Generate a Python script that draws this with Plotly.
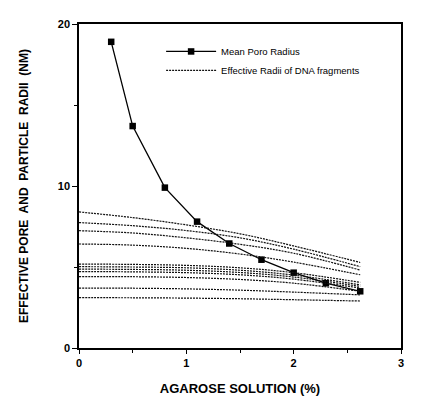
import plotly.graph_objects as go

# Mean pore radius
pore_x = [0.3, 0.5, 0.8, 1.1, 1.4, 1.7, 2.0, 2.3, 2.62]
pore_y = [18.9, 13.7, 9.9, 7.8, 6.45, 5.45, 4.65, 4.0, 3.5]

# Effective radii of DNA fragments (dotted curves)
frag_x = [0, 0.5, 1.0, 1.5, 2.0, 2.62]
frag_1 = [8.40, 8.05, 7.60, 7.05, 6.30, 5.28]
frag_2 = [7.74, 7.55, 7.25, 6.80, 6.10, 5.02]
frag_3 = [7.24, 7.10, 6.80, 6.40, 5.85, 4.81]
frag_4 = [6.42, 6.35, 6.15, 5.80, 5.30, 4.52]
frag_5 = [5.18, 5.16, 5.10, 4.95, 4.65, 4.05]
frag_6 = [5.02, 5.00, 4.95, 4.80, 4.50, 3.90]
frag_7 = [4.87, 4.85, 4.80, 4.66, 4.38, 3.80]
frag_8 = [4.72, 4.70, 4.65, 4.52, 4.25, 3.70]
frag_9 = [4.41, 4.40, 4.35, 4.23, 4.00, 3.50]
frag_10 = [3.70, 3.69, 3.65, 3.57, 3.45, 3.28]
frag_11 = [3.11, 3.10, 3.08, 3.04, 2.98, 2.90]
fragments = [frag_1, frag_2, frag_3, frag_4, frag_5, frag_6, frag_7,
             frag_8, frag_9, frag_10, frag_11]

x_ticks = [0, 1, 2, 3]
y_ticks = [0, 10, 20]

fig = go.Figure()
fig.add_trace(go.Scatter(
    x=pore_x, y=pore_y, mode="lines+markers", name="Mean Poro Radius",
    line=dict(color="black", width=1.3),
    marker=dict(symbol="square", size=6.5, color="black"),
))
for i, fy in enumerate(fragments):
    fig.add_trace(go.Scatter(
        x=frag_x, y=fy, mode="lines", line_shape="spline",
        name="Effective Radii of DNA fragments",
        line=dict(color="#111111", width=1.2, dash="2px,1px"),
        showlegend=(i == 0),
    ))

fig.update_layout(
    width=417, height=388,
    margin=dict(l=71, r=24, t=16, b=48, autoexpand=False),
    paper_bgcolor="white", plot_bgcolor="white",
    showlegend=True,
    legend=dict(x=0.255, y=0.96, xanchor="left", yanchor="top",
                bgcolor="rgba(0,0,0,0)", itemwidth=50,
                font=dict(family="Liberation Sans Narrow, Liberation Sans, Arial", size=9.5, color="black"),
                tracegroupgap=0),
    xaxis=dict(range=[0, 3], tickvals=x_ticks, ticks="outside", ticklen=4,
               tickwidth=1.2, tickcolor="black", automargin=False,
               minor=dict(dtick=0.5, ticks="outside", ticklen=3, tickcolor="black"),
               showline=True, linecolor="black", linewidth=1.5, mirror=True,
               showgrid=False, zeroline=False,
               tickfont=dict(family="Liberation Sans, Arial", size=11, color="black", weight="bold"),
               title=dict(text="<b>AGAROSE SOLUTION (%)</b>", font=dict(family="Liberation Sans, Arial", size=13, color="black"), standoff=24)),
    yaxis=dict(range=[0, 20], tickvals=y_ticks, ticks="outside", ticklen=5,
               tickwidth=1.2, tickcolor="black", automargin=False,
               minor=dict(dtick=5, ticks="outside", ticklen=3, tickcolor="black"),
               showline=True, linecolor="black", linewidth=1.5, mirror=True,
               showgrid=False, zeroline=False,
               tickfont=dict(family="Liberation Sans, Arial", size=11, color="black", weight="bold"),
               title=dict(text="<b>EFFECTIVE PORE  AND  PARTICLE  RADII  (NM)</b>", font=dict(family="Liberation Sans, Arial", size=12, color="black"), standoff=27)),
)

fig.write_html("out.html")
